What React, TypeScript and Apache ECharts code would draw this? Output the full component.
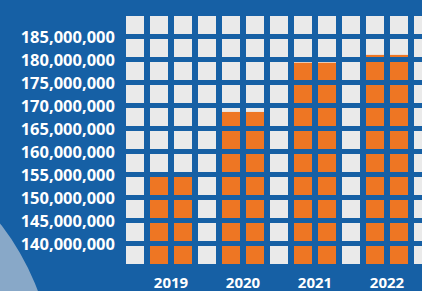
import React, { useEffect, useRef } from "react";
import * as echarts from "echarts";

const years = ["2019", "2020", "2021", "2022"];
const values = [155000000, 168600000, 179300000, 181000000];
const yTicks = [140000000, 145000000, 150000000, 155000000, 160000000, 165000000, 170000000, 175000000, 180000000, 185000000];

const Y_MIN = 135000000;
const Y_MAX = 190000000;
const STEP = 5000000;
const COLS = 13;

export default function App() {
  const ref = useRef<HTMLDivElement>(null);
  useEffect(() => {
    document.body.style.margin = "0";
    const chart = echarts.init(ref.current!, null, { renderer: "svg" });

    const colData: any[] = [];
    for (let c = 0; c < COLS; c++) {
      const yi = c % 3 === 0 ? -1 : Math.floor(c / 3);
      const v = yi >= 0 && yi < values.length ? values[yi] : null;
      colData.push([c, v == null ? "-" : v]);
    }

    const renderItem = (params: any, api: any) => {
      const c = api.value(0);
      const raw = colData[params.dataIndex][1];
      const v = raw === "-" ? null : raw;
      const x0 = api.coord([c, Y_MIN])[0];
      const x1 = api.coord([c + 1, Y_MIN])[0];
      const bw = x1 - x0;
      const children: any[] = [];
      const vy = v == null ? null : api.coord([c, v])[1];
      for (let lo = Y_MIN; lo < Y_MAX; lo += STEP) {
        const yb = api.coord([c, lo])[1];
        const yt = api.coord([c, lo + STEP])[1];
        const sx = x0 + 3;
        const sw = bw - 6;
        const sTop = yt + 2.5;
        const sBot = yb - 2.5;
        children.push({
          type: "rect",
          shape: { x: sx, y: sTop, width: sw, height: sBot - sTop },
          style: { fill: "#EAEAEA" },
        });
        if (vy != null) {
          const oTop = Math.max(sTop, vy);
          if (oTop < sBot) {
            children.push({
              type: "rect",
              shape: { x: sx, y: oTop, width: sw, height: sBot - oTop },
              style: { fill: "#EE7623" },
            });
          }
        }
      }
      return { type: "group", children };
    };

    chart.setOption({
      animation: false,
      backgroundColor: "#1660A5",
      graphic: [
        {
          type: "circle",
          shape: { cx: -200, cy: 380, r: 254 },
          style: { fill: "#88A8C8" },
          z: -10,
          silent: true,
        },
      ],
      grid: {
        left: 123,
        top: 13.5,
        width: 312,
        height: 253,
        outerBoundsMode: "none",
        containLabel: false,
      },
      xAxis: {
        type: "value",
        min: 0,
        max: COLS,
        interval: 1,
        axisLine: { show: false },
        axisTick: { show: false },
        splitLine: { show: false },
        axisLabel: {
          color: "#FFFFFF",
          fontFamily: "Open Sans",
          fontWeight: "bold",
          fontSize: 15,
          margin: 8,
          lineHeight: 14,
          formatter: (val: number) => {
            const k = val - 2;
            if (k >= 0 && k % 3 === 0 && k / 3 < years.length) return years[k / 3];
            return "";
          },
        },
      },
      yAxis: {
        type: "value",
        min: Y_MIN,
        max: Y_MAX,
        interval: STEP,
        axisLine: { show: false },
        axisTick: { show: false },
        splitLine: { show: false },
        axisLabel: {
          color: "#FFFFFF",
          fontFamily: "Open Sans",
          fontWeight: "bold",
          fontSize: 16.5,
          margin: 8,
          formatter: (val: number) =>
            yTicks.indexOf(val) >= 0 ? val.toLocaleString("en-US") : "",
        },
      },
      series: [
        {
          type: "custom",
          renderItem,
          data: colData,
          encode: { x: 0, y: 1 },
          clip: false,
        },
      ],
    });
    return () => chart.dispose();
  }, []);
  return <div ref={ref} style={{ width: 422, height: 291 }} />;
}
